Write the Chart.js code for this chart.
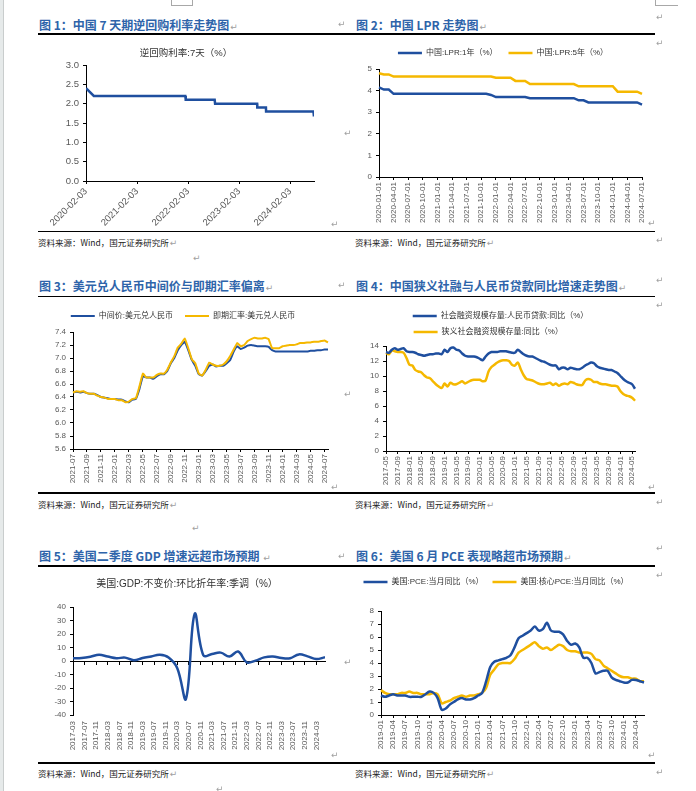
<!DOCTYPE html>
<html>
<head>
<meta charset="utf-8">
<script src="https://cdn.jsdelivr.net/npm/chart.js@4.4.1/dist/chart.umd.min.js"></script>
<style>
html, body { margin: 0; padding: 0; background: #fff; }
body { width: 696px; height: 791px; position: relative; overflow: hidden; font-family: 'Noto Sans CJK SC', 'Liberation Sans', sans-serif; }
.strip { position: absolute; left: 0; top: 0; width: 3px; height: 791px; background: #e6eaea; border-right: 1px solid #c9cdcd; }
.ttl { position: absolute; font-size: 12px; font-weight: bold; color: #2e64aa; white-space: nowrap; line-height: 14px; }
.rule { position: absolute; height: 1.5px; background: #000; }
.src { position: absolute; font-size: 8.5px; color: #222; white-space: nowrap; line-height: 10px; }
.rm { position: absolute; font-size: 9px; color: #a0a0a0; line-height: 10px; font-family: 'DejaVu Sans', sans-serif; font-weight: normal; }
.rmi { font-size: 9px; color: #a0a0a0; font-family: 'DejaVu Sans', sans-serif; font-weight: normal; margin-left: 1px; }
canvas { position: absolute; }
</style>
</head>
<body>
<div class="strip"></div>
<div style="position:absolute;left:171px;top:-1px;width:20px;height:6px;border:1px solid #a8a8a8;border-top:none;"></div>
<div style="position:absolute;left:655px;top:-1px;width:22px;height:6px;border-left:1px solid #a8a8a8;border-bottom:1px solid #a8a8a8;"></div>

<!-- row 1 -->
<div class="ttl" style="left:39px;top:18px">图 1：中国 7 天期逆回购利率走势图<span class="rmi">↵</span></div>
<div class="ttl" style="left:356px;top:18px">图 2：中国 LPR 走势图<span class="rmi">↵</span></div>
<div class="rule" style="left:38px;top:33px;width:617px"></div>
<canvas id="c1" width="305" height="190" style="left:38px;top:38px"></canvas>
<canvas id="c2" width="315" height="190" style="left:340px;top:38px"></canvas>
<div class="rule" style="left:38px;top:230.5px;width:617px"></div>
<div class="src" style="left:38px;top:237px">资料来源：Wind，国元证券研究所<span class="rmi">↵</span></div>
<div class="src" style="left:355px;top:237px">资料来源：Wind，国元证券研究所<span class="rmi">↵</span></div>

<!-- row 2 -->
<div class="ttl" style="left:39px;top:279px">图 3：美元兑人民币中间价与即期汇率偏离<span class="rmi">↵</span></div>
<div class="ttl" style="left:356px;top:279px">图 4：中国狭义社融与人民币贷款同比增速走势图<span class="rmi">↵</span></div>
<div class="rule" style="left:38px;top:295.5px;width:617px"></div>
<canvas id="c3" width="305" height="190" style="left:38px;top:300px"></canvas>
<canvas id="c4" width="315" height="190" style="left:340px;top:300px"></canvas>
<div class="rule" style="left:38px;top:492px;width:617px"></div>
<div class="src" style="left:38px;top:499px">资料来源：Wind，国元证券研究所<span class="rmi">↵</span></div>
<div class="src" style="left:355px;top:499px">资料来源：Wind，国元证券研究所<span class="rmi">↵</span></div>

<!-- row 3 -->
<div class="ttl" style="left:39px;top:549px">图 5：美国二季度 GDP 增速远超市场预期 <span class="rmi">↵</span></div>
<div class="ttl" style="left:356px;top:549px">图 6：美国 6 月 PCE 表现略超市场预期<span class="rmi">↵</span></div>
<div class="rule" style="left:38px;top:565px;width:617px"></div>
<canvas id="c5" width="305" height="190" style="left:38px;top:569px"></canvas>
<canvas id="c6" width="315" height="190" style="left:340px;top:569px"></canvas>
<div class="rule" style="left:38px;top:762px;width:617px"></div>
<div class="src" style="left:38px;top:768px">资料来源：Wind，国元证券研究所<span class="rmi">↵</span></div>
<div class="src" style="left:355px;top:768px">资料来源：Wind，国元证券研究所<span class="rmi">↵</span></div>

<script>
// ==== Helpers for category labels ====
function months(y0, m0, n, suffix) {
  const out = [];
  for (let i = 0; i < n; i++) {
    const t = m0 - 1 + i;
    out.push((y0 + Math.floor(t / 12)) + '-' + String(t % 12 + 1).padStart(2, '0') + (suffix || ''));
  }
  return out;
}
function halfMonths(y0, m0, n) {
  const out = [];
  months(y0, m0, n).forEach(m => { out.push(m + '-01', m + '-16'); });
  return out;
}

// ==== Data ====
// fig 1: 7-day reverse repo rate
const rrDates = ['2020-02-03', '2020-03-30', '2022-01-14', '2022-01-17', '2022-08-12', '2022-08-15',
  '2023-06-12', '2023-06-13', '2023-08-14', '2023-08-15', '2024-07-19', '2024-07-22', '2024-07-23'];
const rrRates = [2.40, 2.20, 2.20, 2.10, 2.10, 2.00, 2.00, 1.90, 1.90, 1.80, 1.80, 1.70, 1.70];
const rrTicks = ['2020-02-03', '2021-02-03', '2022-02-03', '2023-02-03', '2024-02-03'];

// fig 2: LPR
const lprMonths = months(2020, 1, 55, '-01');
const lpr1y = [
  4.15, 4.05, 4.05, 3.85, 3.85, 3.85, 3.85, 3.85, 3.85, 3.85, 3.85, 3.85,
  3.85, 3.85, 3.85, 3.85, 3.85, 3.85, 3.85, 3.85, 3.85, 3.85, 3.85, 3.80,
  3.70, 3.70, 3.70, 3.70, 3.70, 3.70, 3.70, 3.65, 3.65, 3.65, 3.65, 3.65,
  3.65, 3.65, 3.65, 3.65, 3.65, 3.55, 3.55, 3.45, 3.45, 3.45, 3.45, 3.45,
  3.45, 3.45, 3.45, 3.45, 3.45, 3.45, 3.35];
const lpr5y = [
  4.80, 4.75, 4.75, 4.65, 4.65, 4.65, 4.65, 4.65, 4.65, 4.65, 4.65, 4.65,
  4.65, 4.65, 4.65, 4.65, 4.65, 4.65, 4.65, 4.65, 4.65, 4.65, 4.65, 4.65,
  4.60, 4.60, 4.60, 4.60, 4.45, 4.45, 4.45, 4.30, 4.30, 4.30, 4.30, 4.30,
  4.30, 4.30, 4.30, 4.30, 4.30, 4.20, 4.20, 4.20, 4.20, 4.20, 4.20, 4.20,
  4.20, 3.95, 3.95, 3.95, 3.95, 3.95, 3.85];

// fig 3: USD/CNY central parity vs spot (read twice a month)
const fxDays = halfMonths(2021, 7, 37);
const fxMid = [
  6.47, 6.48, 6.47, 6.48, 6.46, 6.45, 6.45, 6.43, 6.40, 6.39, 6.38, 6.37,
  6.37, 6.36, 6.36, 6.33, 6.32, 6.36, 6.37, 6.52, 6.72, 6.70, 6.70, 6.68,
  6.72, 6.75, 6.75, 6.80, 6.92, 7.00, 7.12, 7.20, 7.25, 7.12, 6.97, 6.88,
  6.75, 6.73, 6.80, 6.88, 6.90, 6.87, 6.88, 6.88, 6.92, 6.97, 7.10, 7.18,
  7.14, 7.16, 7.19, 7.20, 7.19, 7.18, 7.18, 7.18, 7.17, 7.12, 7.10, 7.10,
  7.10, 7.10, 7.10, 7.10, 7.10, 7.10, 7.10, 7.10, 7.11, 7.11, 7.12, 7.12,
  7.13, 7.13];
const fxSpot = [
  6.47, 6.49, 6.48, 6.49, 6.46, 6.45, 6.45, 6.42, 6.40, 6.39, 6.37, 6.37,
  6.37, 6.35, 6.35, 6.32, 6.33, 6.37, 6.38, 6.56, 6.76, 6.70, 6.70, 6.70,
  6.74, 6.76, 6.76, 6.82, 6.93, 7.03, 7.16, 7.22, 7.30, 7.15, 6.98, 6.92,
  6.76, 6.73, 6.82, 6.93, 6.90, 6.88, 6.88, 6.90, 6.95, 7.03, 7.13, 7.23,
  7.18, 7.20, 7.26, 7.29, 7.31, 7.30, 7.30, 7.31, 7.29, 7.15, 7.15, 7.15,
  7.18, 7.19, 7.20, 7.20, 7.21, 7.23, 7.23, 7.24, 7.24, 7.25, 7.25, 7.26,
  7.27, 7.24];

// fig 4: TSF stock growth
const tsfMonths = months(2017, 5, 86);
const tsfLoan = [
  13.2, 13.1, 13.5, 13.7, 13.5, 13.6, 13.7, 13.3,
  13.2, 13.2, 13.1, 12.9, 12.8, 12.7, 12.8, 12.9, 12.9, 13.0, 13.0, 12.9,
  13.5, 13.2, 13.7, 13.8, 13.5, 13.4, 13.0, 12.7, 12.6, 12.6, 12.6, 12.5,
  12.3, 12.1, 12.6, 13.0, 13.2, 13.2, 13.2, 13.3, 13.3, 13.3, 13.2, 13.1,
  13.1, 13.5, 13.2, 12.9, 12.7, 12.6, 12.6, 12.4, 12.2, 12.0, 11.9, 11.7,
  11.5, 11.4, 11.4, 10.9, 11.1, 11.1, 10.9, 11.1, 11.0, 10.9, 10.9, 11.1,
  11.4, 11.6, 11.8, 11.7, 11.3, 11.1, 11.0, 10.9, 10.8, 10.8, 10.6, 10.4,
  10.0, 9.6, 9.3, 9.1, 8.9, 8.3];
const tsfNarrow = [
  13.1, 12.9, 13.4, 13.3, 13.2, 13.2, 13.1, 12.4,
  11.5, 11.4, 10.8, 10.6, 10.5, 10.1, 9.8, 9.7, 9.3, 8.9, 8.6, 8.4,
  9.0, 8.6, 9.1, 8.9, 8.9, 9.1, 9.3, 9.0, 9.2, 9.4, 9.5, 9.5,
  9.5, 9.3, 9.4, 10.6, 11.2, 11.5, 11.8, 12.0, 12.1, 12.1, 12.0, 11.5,
  11.4, 11.8, 10.9, 10.1, 9.6, 9.5, 9.4, 9.2, 9.0, 8.9, 8.9, 9.0,
  9.1, 8.8, 9.0, 8.7, 8.9, 9.0, 8.9, 9.2, 9.1, 8.9, 8.8, 8.8,
  9.4, 9.6, 9.5, 9.2, 9.2, 9.0, 8.9, 8.9, 8.8, 8.7, 8.7, 8.6,
  8.0, 7.6, 7.4, 7.3, 7.1, 6.7];

// fig 5: US real GDP, q/q annualised
const gdpQuarters = [
  '2017-03', '2017-06', '2017-09', '2017-12', '2018-03', '2018-06', '2018-09', '2018-12',
  '2019-03', '2019-06', '2019-09', '2019-12', '2020-03', '2020-06', '2020-09', '2020-12',
  '2021-03', '2021-06', '2021-09', '2021-12', '2022-03', '2022-06', '2022-09', '2022-12',
  '2023-03', '2023-06', '2023-09', '2023-12', '2024-03', '2024-06'];
const gdpGrowth = [
  2.0, 2.3, 3.2, 4.6, 3.3, 2.1, 2.5, 0.6,
  2.2, 3.4, 4.6, 2.6, -5.3, -28.0, 34.8, 4.2,
  5.2, 6.2, 3.3, 7.0, -1.0, 0.3, 2.7, 3.4,
  2.2, 2.1, 4.9, 3.4, 1.4, 2.8];
const gdpTicks = [
  '2017-03', '2017-07', '2017-11', '2018-03', '2018-07', '2018-11', '2019-03', '2019-07',
  '2019-11', '2020-03', '2020-07', '2020-11', '2021-03', '2021-07', '2021-11', '2022-03',
  '2022-07', '2022-11', '2023-03', '2023-07', '2023-11', '2024-03'];

// fig 6: US PCE y/y
const pceMonths = months(2019, 1, 66);
const pceHeadline = [
  1.5, 1.4, 1.5, 1.6, 1.5, 1.5, 1.5, 1.4, 1.4, 1.4, 1.4, 1.6,
  1.8, 1.7, 1.3, 0.4, 0.5, 0.8, 1.0, 1.2, 1.3, 1.2, 1.2, 1.3,
  1.5, 1.7, 2.6, 3.7, 4.1, 4.2, 4.3, 4.4, 4.6, 5.2, 5.9, 6.1,
  6.3, 6.5, 6.8, 6.5, 6.6, 7.1, 6.5, 6.4, 6.4, 6.2, 5.7, 5.4,
  5.5, 5.2, 4.4, 4.4, 4.0, 3.2, 3.3, 3.4, 3.4, 2.9, 2.7, 2.6,
  2.5, 2.5, 2.7, 2.7, 2.6, 2.5];
const pceCore = [
  1.9, 1.7, 1.6, 1.6, 1.6, 1.7, 1.7, 1.8, 1.7, 1.7, 1.6, 1.6,
  1.6, 1.7, 1.6, 0.9, 1.0, 1.1, 1.3, 1.4, 1.5, 1.4, 1.5, 1.5,
  1.6, 1.7, 2.1, 3.1, 3.5, 3.9, 4.0, 4.0, 4.0, 4.3, 4.8, 5.0,
  5.2, 5.4, 5.6, 5.3, 5.1, 5.2, 5.0, 5.2, 5.4, 5.3, 5.0, 4.9,
  4.9, 4.8, 4.8, 4.8, 4.7, 4.3, 4.2, 3.8, 3.6, 3.4, 3.2, 3.0,
  2.9, 2.9, 2.8, 2.8, 2.6, 2.6];

// ==== Styling ====
const BLUE = '#1f4f9f';
const GOLD = '#f5b800';
const TICK = '#595959';
const FONT = "'Liberation Sans', 'Noto Sans CJK SC', sans-serif";
Chart.defaults.font.family = FONT;
Chart.defaults.animation = false;

// lets a chart pin the legend block height so the plot top lands where it should
Chart.register({
  id: 'fixLegend',
  beforeLayout(chart, args, opts) {
    const lg = chart.legend;
    if (!lg || lg._fixed || !opts || !opts.height) return;
    const fit = lg.fit.bind(lg);
    lg.fit = () => { fit(); lg.height = opts.height; };
    lg._fixed = true;
  }
});

const AX = { color: '#000', width: 1 };
const GRID = { drawOnChartArea: false, drawTicks: true, tickLength: 3, color: '#000' };

function dayNo(d) {
  const p = d.split('-').map(Number);
  return (Date.UTC(p[0], p[1] - 1, p[2]) - Date.UTC(2020, 1, 3)) / 864e5;
}
function monthNo(d) {
  const p = d.split('-').map(Number);
  return (p[0] - 2017) * 12 + (p[1] - 3);
}

function line(label, data, color, width, tension) {
  return { label, data, borderColor: color, backgroundColor: color, borderWidth: width,
    pointRadius: 0, pointHoverRadius: 0, tension, fill: false };
}

function yAxis(w, min, max, step, fmt, size) {
  return {
    min, max,
    afterFit: s => { s.width = w; },
    border: AX, grid: GRID,
    ticks: { stepSize: step, color: TICK, padding: 4, font: { size }, callback: fmt }
  };
}

function catX(h, every, fmt) {
  return {
    type: 'category', offset: false,
    afterFit: s => { s.height = h; },
    border: AX, grid: Object.assign({ offset: false }, GRID),
    ticks: {
      autoSkip: false, minRotation: 90, maxRotation: 90, padding: 2, color: TICK, font: { size: 8 },
      callback(v, i) { return i % every === 0 ? fmt(this.getLabelForValue(v)) : null; }
    }
  };
}

function legend(pad) {
  return {
    display: true, position: 'top',
    labels: { usePointStyle: true, pointStyle: 'line', pointStyleWidth: 24, padding: pad,
      color: '#333', font: { size: 8 }, sort: (a, b) => a.datasetIndex - b.datasetIndex }
  };
}

// padLeft shifts the legend/title centre; the y axis width is reduced to keep the plot in place
function base(padLeft, padRight, plugins, scales, padTop) {
  return {
    responsive: false, animation: false, events: [],
    layout: { padding: { left: padLeft, right: padRight, top: padTop || 0, bottom: 0 } },
    plugins: Object.assign({ tooltip: { enabled: false } }, plugins),
    scales
  };
}

// pads a legend label with spaces so both rows of fig 4 start at the same x
function padTo(longer, shorter) {
  const ctx = document.createElement('canvas').getContext('2d');
  ctx.font = '8px ' + FONT;
  let s = shorter;
  while (ctx.measureText(s + ' ').width <= ctx.measureText(longer).width) s += ' ';
  return s;
}

// ==== Fig 1 ====
new Chart(document.getElementById('c1'), {
  type: 'line',
  data: { datasets: [line('逆回购利率:7天（%）', rrDates.map((d, i) => ({ x: dayNo(d), y: rrRates[i] })), BLUE, 2.5, 0)] },
  options: base(20, 29, {
    legend: { display: false },
    title: { display: true, text: '逆回购利率:7天（%）', color: '#333', font: { size: 9.5, weight: 'normal' },
      padding: { top: 9.3, bottom: 6.3 } }
  }, {
    x: {
      type: 'linear', min: 0, max: dayNo(rrDates[rrDates.length - 1]),
      afterFit: s => { s.height = 47; },
      afterBuildTicks: s => { s.ticks = rrTicks.map(d => ({ value: dayNo(d) })); },
      border: AX, grid: GRID,
      ticks: { autoSkip: false, minRotation: 45, maxRotation: 45, padding: 2, color: TICK, font: { size: 9.5 },
        callback: (v, i) => rrTicks[i] }
    },
    y: yAxis(28, 0, 3, 0.5, v => v.toFixed(1), 9.5)
  })
});

// ==== Fig 2 ====
new Chart(document.getElementById('c2'), {
  type: 'line',
  data: {
    labels: lprMonths,
    datasets: [
      line('中国:LPR:1年（%）', lpr1y, BLUE, 2.5, 0),
      line('中国:LPR:5年（%）', lpr5y, GOLD, 2.5, 0)
    ]
  },
  options: base(24, 13, { legend: legend(11), fixLegend: { height: 31 } }, {
    x: catX(51, 3, l => l),
    y: yAxis(15, 0, 5, 1, v => v, 8)
  })
});

// ==== Fig 3 ====
new Chart(document.getElementById('c3'), {
  type: 'line',
  data: {
    labels: fxDays,
    datasets: [
      Object.assign(line('中间价:美元兑人民币', fxMid, BLUE, 2, 0.1), { order: 1 }),
      Object.assign(line('即期汇率:美元兑人民币', fxSpot, GOLD, 2, 0.1), { order: 0 })
    ]
  },
  options: base(0, 15, { legend: legend(12), fixLegend: { height: 32 } }, {
    x: catX(41, 4, l => l.slice(0, 7)),
    y: yAxis(35, 5.6, 7.4, 0.2, v => v.toFixed(1), 8)
  })
});

// ==== Fig 4 ====
const tsfLabelA = '社会融资规模存量:人民币贷款:同比（%）';
const tsfLabelB = padTo(tsfLabelA, '狭义社会融资规模存量:同比（%）');
new Chart(document.getElementById('c4'), {
  type: 'line',
  data: {
    labels: tsfMonths,
    datasets: [
      line(tsfLabelA, tsfLoan, BLUE, 2.5, 0.3),
      line(tsfLabelB, tsfNarrow, GOLD, 2.5, 0.3)
    ]
  },
  options: base(26, 20, { legend: legend(8), fixLegend: { height: 42 } }, {
    x: catX(39, 4, l => l),
    y: yAxis(20, 0, 14, 2, v => v, 8)
  }, 4)
});

// ==== Fig 5 ====
const gdpTickSet = s => { s.ticks = gdpTicks.map(d => ({ value: monthNo(d) })); };
new Chart(document.getElementById('c5'), {
  type: 'line',
  data: { datasets: [line('美国:GDP:不变价:环比折年率:季调（%）', gdpQuarters.map((d, i) => ({ x: monthNo(d), y: gdpGrowth[i] })), BLUE, 2.5, 0.4)] },
  options: base(11, 18, {
    legend: { display: false },
    title: { display: true, text: '美国:GDP:不变价:环比折年率:季调（%）', color: '#333', font: { size: 10, weight: 'normal' },
      padding: { top: 9, bottom: 17 } }
  }, {
    x: {
      type: 'linear', min: 0, max: 87,
      afterFit: s => { s.height = 44; },
      afterBuildTicks: gdpTickSet,
      border: { display: false }, grid: { display: false, tickLength: 3 },
      ticks: { autoSkip: false, minRotation: 90, maxRotation: 90, padding: 3, color: TICK, font: { size: 8 },
        callback: (v, i) => gdpTicks[i] }
    },
    x2: {
      type: 'linear', axis: 'x', position: { y: 0 }, min: 0, max: 87,
      afterBuildTicks: gdpTickSet,
      border: AX, grid: GRID, ticks: { display: false }
    },
    y: yAxis(24, -40, 40, 10, v => v, 8)
  })
});

// ==== Fig 6 ====
new Chart(document.getElementById('c6'), {
  type: 'line',
  data: {
    labels: pceMonths,
    datasets: [
      line('美国:PCE:当月同比（%）', pceHeadline, BLUE, 2.5, 0.3),
      line('美国:核心PCE:当月同比（%）', pceCore, GOLD, 2.5, 0.3)
    ]
  },
  options: base(8, 11, { legend: legend(9), fixLegend: { height: 42 } }, {
    x: catX(44, 3, l => l),
    y: yAxis(33, 0, 8, 1, v => v, 8)
  })
});

// ==== Paragraph marks of the page ====
const marks = [
  [342, 24], [660, 17], [660, 43], [348, 133], [335, 224], [652, 223], [660, 240], [197, 258],
  [342, 285], [660, 280], [660, 305], [348, 394], [335, 487], [652, 487], [660, 502], [196, 528],
  [342, 556], [660, 548], [660, 575], [348, 662], [335, 755], [652, 755], [660, 772], [220, 789]
];
marks.forEach(([x, y]) => {
  const el = document.createElement('span');
  el.className = 'rm';
  el.textContent = '↵';
  el.style.left = (x - 4) + 'px';
  el.style.top = (y - 5) + 'px';
  document.body.appendChild(el);
});
</script>
</body>
</html>
